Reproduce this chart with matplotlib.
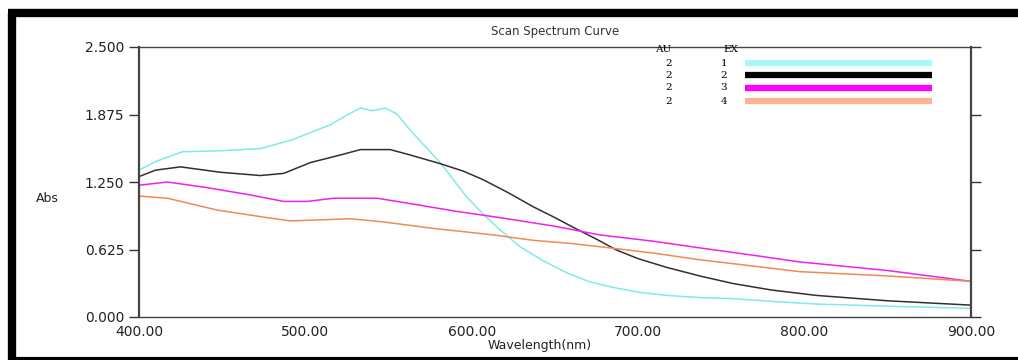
import matplotlib
matplotlib.use('Agg')
import matplotlib.pyplot as plt
from matplotlib.lines import Line2D

# data (Abs vs panjang gelombang)
wl_1 = [400, 410, 426, 450, 473, 492, 505, 515, 525, 533, 540, 548, 555, 563, 572, 581, 590, 597, 607, 616, 629, 643, 657, 670, 683, 700, 717, 737, 757, 780, 807, 850, 900]
abs_1 = [1.36, 1.44, 1.53, 1.54, 1.56, 1.64, 1.72, 1.78, 1.87, 1.935, 1.91, 1.935, 1.88, 1.73, 1.58, 1.43, 1.25, 1.11, 0.95, 0.82, 0.65, 0.52, 0.41, 0.33, 0.28, 0.23, 0.20, 0.18, 0.17, 0.145, 0.12, 0.10, 0.08]

wl_2 = [400, 410, 425, 449, 473, 487, 503, 521, 533, 551, 563, 581, 595, 607, 622, 637, 650, 661, 675, 687, 700, 717, 737, 757, 780, 807, 850, 900]
abs_2 = [1.30, 1.36, 1.39, 1.34, 1.31, 1.33, 1.43, 1.50, 1.55, 1.55, 1.50, 1.42, 1.35, 1.27, 1.15, 1.02, 0.92, 0.83, 0.72, 0.62, 0.54, 0.46, 0.38, 0.31, 0.25, 0.20, 0.15, 0.11]

wl_3 = [400, 417, 440, 467, 487, 501, 517, 543, 567, 590, 617, 650, 677, 710, 737, 770, 797, 850, 900]
abs_3 = [1.22, 1.25, 1.20, 1.13, 1.07, 1.07, 1.10, 1.10, 1.04, 0.98, 0.92, 0.84, 0.76, 0.70, 0.64, 0.57, 0.51, 0.43, 0.33]

wl_4 = [400, 417, 447, 477, 491, 510, 527, 547, 577, 613, 637, 660, 683, 710, 737, 770, 797, 850, 900]
abs_4 = [1.12, 1.10, 0.99, 0.92, 0.89, 0.90, 0.91, 0.88, 0.82, 0.76, 0.71, 0.68, 0.64, 0.59, 0.53, 0.47, 0.42, 0.38, 0.33]

series = [(wl_1, abs_1), (wl_2, abs_2), (wl_3, abs_3), (wl_4, abs_4)]
line_colors = ['#80eaea', '#3a2c2c', '#f020f0', '#f08a55']
legend_colors = ['#a8fafa', '#000000', '#ff00ff', '#ffb394']
au_vals = ['2', '2', '2', '2']
ex_vals = ['1', '2', '3', '4']

y_ticks = [0.0, 0.625, 1.25, 1.875, 2.5]
x_ticks = [400, 500, 600, 700, 800, 900]

W, H = 1018, 360
fig = plt.figure(figsize=(W / 100, H / 100), dpi=100)
ax = fig.add_axes([139 / W, 1 - 317 / H, 832 / W, 270 / H])

for (x, y), c in zip(series, line_colors):
    ax.plot(x, y, color=c, lw=1.1)

ax.set_xlim(400, 900)
ax.set_ylim(0, 2.5)
ax.set_yticks(y_ticks)
ax.set_yticklabels([f'{v:.3f}' for v in y_ticks], fontsize=10, color='#222222')
ax.set_xticks(x_ticks)
ax.set_xticklabels([f'{v:.2f}' for v in x_ticks], fontsize=10, color='#222222')
ax.tick_params(axis='x', length=0, pad=6)
ax.tick_params(axis='y', direction='out', length=7, width=1, left=True, right=True, colors='#333333')
ax.tick_params(axis='y', labelcolor='#222222')
for s in ax.spines.values():
    s.set_color('#444444')
    s.set_linewidth(1.0)
ax.spines['left'].set_linewidth(1.6)
ax.spines['right'].set_linewidth(1.6)

fig.text(555 / W, 1 - 32 / H, 'Scan Spectrum Curve', ha='center', va='center', fontsize=8.5, color='#333333')
fig.text(47 / W, 1 - 198 / H, 'Abs', ha='center', va='center', fontsize=9, color='#222222')
fig.text(540 / W, 1 - 346 / H, 'Wavelength(nm)', ha='center', va='center', fontsize=9, color='#222222')

# legenda manual (AU, EX, garis tebal)
fig.text(663 / W, 1 - 50 / H, 'AU', ha='center', va='center', fontsize=7.5, family='DejaVu Serif')
fig.text(731 / W, 1 - 50 / H, 'EX', ha='center', va='center', fontsize=7.5, family='DejaVu Serif')
row_y = [63, 75, 88, 101]
for i in range(4):
    yy = 1 - row_y[i] / H
    fig.text(669 / W, yy, au_vals[i], ha='center', va='center', fontsize=7.5, family='DejaVu Serif')
    fig.text(724 / W, yy, ex_vals[i], ha='center', va='center', fontsize=7.5, family='DejaVu Serif')
    fig.add_artist(Line2D([745 / W, 932 / W], [yy, yy], color=legend_colors[i], lw=4.5, solid_capstyle='butt'))

# bingkai hitam tebal (atas, kiri, bawah)
fig.add_artist(Line2D([8 / W, 1.0], [1 - 13 / H, 1 - 13 / H], color='black', lw=6, solid_capstyle='butt'))
fig.add_artist(Line2D([12 / W, 12 / W], [0, 1 - 13 / H], color='black', lw=6, solid_capstyle='butt'))
fig.add_artist(Line2D([8 / W, 1.0], [1 - 358.5 / H, 1 - 358.5 / H], color='black', lw=3, solid_capstyle='butt'))

fig.savefig('out.png', dpi=100)
